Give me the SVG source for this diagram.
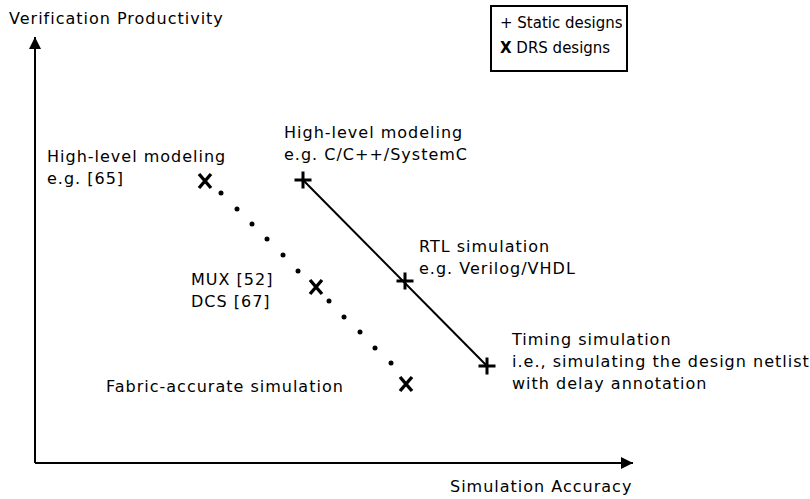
<svg xmlns="http://www.w3.org/2000/svg" width="810" height="499" viewBox="0 0 810 499">
<style>
text{font-family:"DejaVu Sans",sans-serif;font-size:16px;letter-spacing:1px;fill:#000}
text.lg{font-size:15px;letter-spacing:0}
.ax{stroke:#000;stroke-width:2;fill:none}
.ln{stroke:#000;stroke-width:2;fill:none}
.mk{stroke:#000;stroke-width:3;fill:none}
.mx{stroke:#000;stroke-width:3.4;fill:none}
.dot{fill:#000}
</style>
<defs>
<marker id="arr" markerWidth="12" markerHeight="12" refX="12" refY="6" orient="auto" markerUnits="userSpaceOnUse">
<path d="M0,0 L12,6 L0,12 Z" fill="#000"/>
</marker>
<path id="px" d="M-6,-7 L6,7 M6,-7 L-6,7"/>
<path id="pp" d="M-8.5,0 L8.5,0 M0,-8.5 L0,8.5"/>
</defs>
<rect width="810" height="499" fill="#fff"/>
<g id="connectors">
<path class="ax" d="M35,463 L35,37" marker-end="url(#arr)"/>
<path class="ax" d="M35,463 L633,463" marker-end="url(#arr)"/>
<path class="ln" d="M303,180 L487,366"/>
<g id="dots">
<circle class="dot" cx="221" cy="193" r="2.5"/>
<circle class="dot" cx="237" cy="209" r="2.5"/>
<circle class="dot" cx="252" cy="224" r="2.5"/>
<circle class="dot" cx="267" cy="239" r="2.5"/>
<circle class="dot" cx="283" cy="255" r="2.5"/>
<circle class="dot" cx="298" cy="271" r="2.5"/>
<circle class="dot" cx="329" cy="301" r="2.5"/>
<circle class="dot" cx="344" cy="317" r="2.5"/>
<circle class="dot" cx="360" cy="332" r="2.5"/>
<circle class="dot" cx="375" cy="348" r="2.5"/>
<circle class="dot" cx="391" cy="363" r="2.5"/>
</g>
</g>
<g id="axis-labels">
<text x="9" y="24">Verification Productivity</text>
<text x="450" y="492">Simulation Accuracy</text>
</g>
<g id="legend">
<rect x="491" y="6" width="136" height="65" fill="#fff" stroke="#000" stroke-width="2"/>
<text class="lg" x="500" y="28">+ Static designs</text>
<text class="lg" x="500" y="53"><tspan font-weight="bold">X</tspan> DRS designs</text>
</g>
<g id="drs-hl">
<use href="#px" class="mx" x="205" y="181"/>
<text x="47" y="162">High-level modeling</text>
<text x="47" y="184">e.g. [65]</text>
</g>
<g id="drs-mux">
<use href="#px" class="mx" x="316" y="287"/>
<text x="191" y="285">MUX [52]</text>
<text x="191" y="307">DCS [67]</text>
</g>
<g id="drs-fabric">
<use href="#px" class="mx" x="406" y="384"/>
<text x="106" y="392">Fabric-accurate simulation</text>
</g>
<g id="static-hl">
<use href="#pp" class="mk" x="303" y="180"/>
<text x="284" y="138">High-level modeling</text>
<text x="284" y="160">e.g. C/C++/SystemC</text>
</g>
<g id="static-rtl">
<use href="#pp" class="mk" x="405" y="281"/>
<text x="419" y="252">RTL simulation</text>
<text x="419" y="274">e.g. Verilog/VHDL</text>
</g>
<g id="static-timing">
<use href="#pp" class="mk" x="487" y="366"/>
<text x="512" y="345">Timing simulation</text>
<text x="512" y="367">i.e., simulating the design netlist</text>
<text x="512" y="389">with delay annotation</text>
</g>
</svg>
